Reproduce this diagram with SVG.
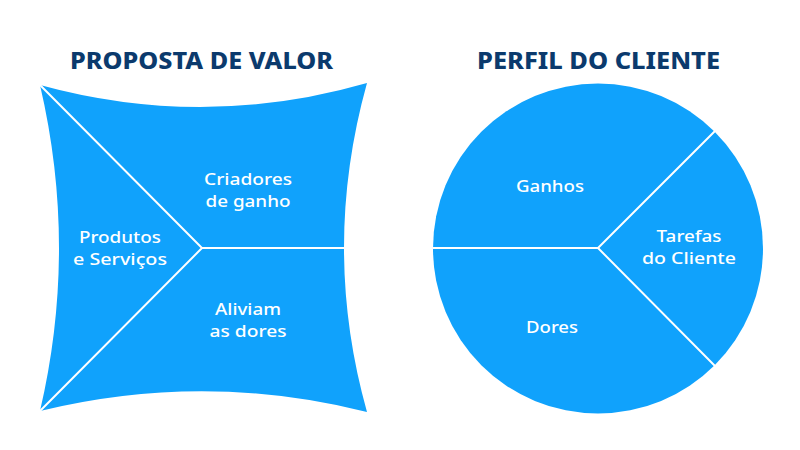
<svg xmlns="http://www.w3.org/2000/svg" width="800" height="450" viewBox="0 0 800 450">
<style>
.title{font-family:"Noto Sans","DejaVu Sans",sans-serif;font-weight:800;font-size:23px;fill:#0b3a6d;}
.lbl{font-family:"Noto Sans","DejaVu Sans",sans-serif;font-weight:500;font-size:17px;fill:#ffffff;text-anchor:middle;}
.shape{fill:#10a2fc;}
.sep{stroke:#ffffff;stroke-width:2;fill:none;}
</style>
<rect width="800" height="450" fill="#ffffff"/>
<text class="title" x="70" y="69" textLength="263" lengthAdjust="spacingAndGlyphs">PROPOSTA DE VALOR</text>
<text class="title" x="477" y="69" textLength="243" lengthAdjust="spacingAndGlyphs">PERFIL DO CLIENTE</text>
<g id="proposta">
<path class="shape" d="M40,85 Q204,130 367,83 Q321,248 367,412 Q204,371 40,411 Q78,248 40,85 Z"/>
</g>
<g id="perfil">
<circle class="shape" cx="598" cy="248.5" r="165"/>
</g>
<g id="connectors">
<path class="sep" d="M40,85 L202,248 L40,411 M202,248 L345,248"/>
<path class="sep" d="M433,248 L598,248 L715,131 M598,248 L715,366"/>
</g>
<g id="criadores"><text class="lbl" x="248" y="185" textLength="88" lengthAdjust="spacingAndGlyphs">Criadores</text><text class="lbl" x="248" y="207" textLength="85" lengthAdjust="spacingAndGlyphs">de ganho</text></g>
<g id="produtos"><text class="lbl" x="120" y="243" textLength="82" lengthAdjust="spacingAndGlyphs">Produtos</text><text class="lbl" x="120" y="265" textLength="94" lengthAdjust="spacingAndGlyphs">e Serviços</text></g>
<g id="aliviam"><text class="lbl" x="248" y="315" textLength="66" lengthAdjust="spacingAndGlyphs">Aliviam</text><text class="lbl" x="248" y="337" textLength="77" lengthAdjust="spacingAndGlyphs">as dores</text></g>
<g id="ganhos"><text class="lbl" x="550" y="192" textLength="68" lengthAdjust="spacingAndGlyphs">Ganhos</text></g>
<g id="tarefas"><text class="lbl" x="689" y="242" textLength="65" lengthAdjust="spacingAndGlyphs">Tarefas</text><text class="lbl" x="689" y="264" textLength="94" lengthAdjust="spacingAndGlyphs">do Cliente</text></g>
<g id="dores"><text class="lbl" x="552" y="333" textLength="52" lengthAdjust="spacingAndGlyphs">Dores</text></g>
</svg>
